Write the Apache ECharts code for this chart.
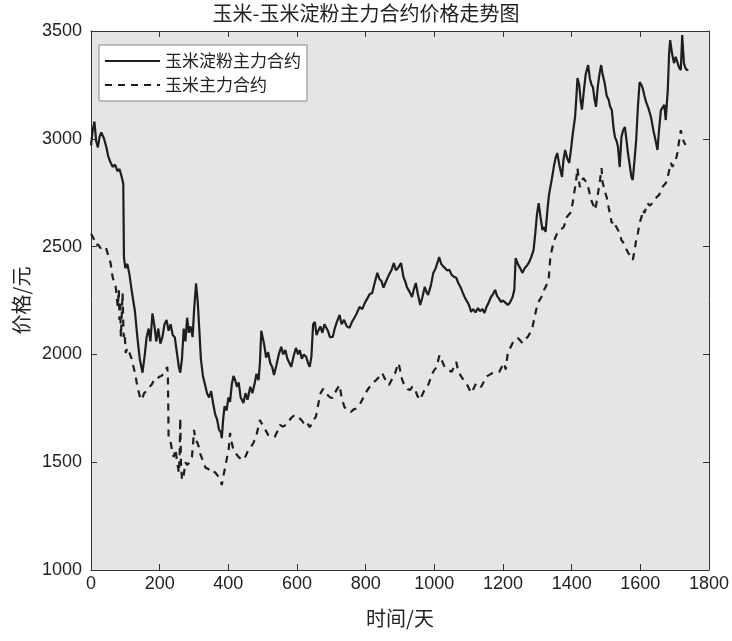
<!DOCTYPE html>
<html>
<head>
<meta charset="utf-8">
<script src="https://cdn.jsdelivr.net/npm/echarts@6/dist/echarts.min.js"></script>
<style>
html,body{margin:0;padding:0;background:#fff;}
#chart{width:732px;height:641px;}
</style>
</head>
<body>
<div id="chart"></div>
<script>
const titleText = '玉米-玉米淀粉主力合约价格走势图';
const seriesNames = ['玉米淀粉主力合约', '玉米主力合约'];
const xTicks = [0, 200, 400, 600, 800, 1000, 1200, 1400, 1600, 1800];
const yTicks = [1000, 1500, 2000, 2500, 3000, 3500];

const starchDays = [0,5,10,15,20,25,30,38,45,50,57,63,70,77,83,90,94,96,100,106,112,120,128,135,142,150,156,162,168,173,179,185,190,196,202,208,214,220,226,232,238,244,250,256,260,265,270,275,280,285,290,296,300,306,311,316,320,326,332,338,344,350,356,362,367,373,378,381,385,389,395,400,405,410,415,420,425,430,436,444,450,456,464,470,476,482,488,492,496,500,505,510,516,522,528,533,540,547,554,560,566,572,578,583,590,597,603,608,614,620,627,632,637,642,647,652,657,662,668,674,680,684,690,696,704,710,716,724,730,737,745,753,760,767,774,782,790,798,805,812,819,826,834,840,846,852,857,862,868,875,882,888,894,903,910,915,920,928,935,940,946,952,959,966,972,977,982,990,997,1004,1010,1014,1020,1025,1030,1037,1044,1050,1057,1064,1070,1077,1083,1090,1098,1103,1107,1113,1120,1127,1133,1140,1146,1152,1158,1165,1171,1177,1183,1188,1194,1200,1207,1214,1220,1228,1233,1237,1243,1250,1257,1263,1269,1275,1282,1289,1294,1299,1304,1309,1315,1320,1324,1330,1334,1338,1343,1348,1353,1358,1364,1368,1372,1376,1381,1387,1393,1398,1403,1410,1414,1417,1422,1426,1430,1436,1441,1448,1453,1458,1462,1467,1471,1476,1481,1486,1490,1496,1502,1508,1512,1517,1522,1526,1531,1535,1540,1545,1550,1555,1560,1564,1569,1574,1578,1583,1588,1593,1598,1603,1607,1612,1617,1624,1631,1638,1646,1650,1655,1660,1665,1670,1674,1680,1684,1687,1692,1698,1703,1708,1713,1718,1722,1727,1731,1735,1740];
const starchPrice = [2970,3040,3080,2990,2960,3010,3030,3000,2960,2920,2890,2870,2880,2850,2860,2820,2790,2450,2400,2420,2370,2280,2200,2080,1980,1915,1990,2080,2120,2060,2190,2130,2060,2120,2050,2080,2140,2160,2110,2140,2090,2080,2010,1940,1915,1980,2120,2060,2170,2100,2130,2080,2200,2330,2240,2100,1980,1900,1860,1820,1800,1830,1770,1720,1700,1650,1640,1612,1700,1760,1740,1800,1780,1860,1900,1880,1850,1870,1800,1775,1820,1790,1850,1820,1860,1910,1880,1960,2110,2080,2040,1985,2010,1960,1940,1905,1950,2000,2035,2000,2020,1980,1960,1942,1990,2030,2000,2020,1980,2000,1988,1960,1942,1990,2140,2150,2090,2110,2130,2100,2140,2127,2110,2080,2081,2120,2150,2183,2140,2160,2130,2123,2150,2169,2190,2220,2210,2240,2260,2280,2285,2330,2378,2350,2340,2310,2330,2322,2370,2390,2424,2390,2400,2424,2360,2340,2313,2290,2266,2300,2331,2280,2229,2270,2313,2290,2276,2320,2378,2400,2430,2452,2420,2410,2401,2390,2392,2370,2360,2355,2330,2310,2285,2260,2239,2220,2197,2210,2195,2215,2200,2210,2192,2220,2240,2266,2280,2299,2270,2260,2243,2250,2240,2229,2240,2266,2300,2447,2420,2400,2378,2400,2410,2424,2450,2484,2560,2650,2702,2640,2577,2590,2568,2680,2740,2776,2820,2870,2910,2934,2880,2850,2823,2900,2948,2910,2888,2950,3020,3101,3200,3282,3250,3180,3135,3230,3300,3342,3280,3250,3240,3180,3148,3240,3300,3342,3300,3260,3200,3180,3150,3133,3050,3008,2990,2962,2869,3008,3040,3055,2990,2934,2880,2823,2809,2900,2995,3150,3263,3250,3235,3200,3170,3140,3101,3040,2981,2948,3050,3133,3140,3157,3087,3226,3400,3458,3400,3351,3380,3379,3330,3319,3481,3351,3330,3319,3320];

const cornDays = [0,7,14,20,28,35,43,50,57,63,68,72,78,81,83,85,87,90,92,95,98,101,106,112,118,126,130,135,140,145,150,155,162,170,177,184,191,198,205,213,218,222,224,226,231,236,241,246,251,256,258,260,262,265,270,275,280,287,294,298,300,305,310,314,318,323,328,334,341,349,356,363,368,372,377,381,386,391,396,401,405,410,415,422,430,437,444,451,458,465,473,478,482,487,492,497,501,508,516,525,535,542,550,559,568,576,583,588,593,597,603,610,617,624,630,637,644,650,655,662,669,676,684,690,697,704,710,717,724,730,738,745,750,757,765,774,782,790,797,805,812,818,824,830,836,842,848,855,862,868,875,880,886,891,896,900,905,910,916,922,929,936,943,950,958,964,970,978,985,992,999,1007,1011,1015,1020,1025,1030,1037,1044,1050,1057,1064,1070,1079,1086,1093,1100,1107,1114,1122,1129,1136,1143,1151,1160,1170,1180,1189,1196,1203,1208,1214,1221,1228,1235,1243,1250,1257,1264,1272,1279,1286,1293,1301,1308,1315,1320,1324,1329,1333,1338,1343,1347,1352,1358,1362,1367,1372,1377,1381,1386,1391,1396,1403,1410,1414,1417,1420,1424,1429,1434,1440,1445,1452,1459,1464,1468,1472,1477,1482,1487,1490,1496,1502,1508,1513,1517,1522,1527,1535,1540,1545,1550,1555,1560,1565,1570,1575,1578,1583,1588,1593,1598,1604,1608,1612,1617,1621,1627,1634,1641,1648,1655,1660,1666,1672,1676,1680,1685,1689,1694,1698,1703,1708,1713,1718,1722,1727,1732];
const cornPrice = [2560,2540,2507,2510,2493,2500,2498,2460,2424,2359,2330,2313,2220,2300,2160,2250,2081,2200,2285,2081,2100,2007,2030,2007,1980,1928,1900,1849,1820,1789,1800,1821,1830,1849,1860,1882,1880,1896,1900,1914,1920,1942,1900,1617,1600,1557,1524,1560,1500,1450,1520,1705,1496,1417,1440,1500,1487,1500,1524,1600,1650,1600,1590,1571,1540,1519,1500,1473,1470,1455,1460,1450,1440,1431,1420,1394,1440,1478,1520,1557,1636,1590,1557,1540,1524,1515,1510,1530,1557,1570,1589,1610,1626,1660,1696,1680,1673,1650,1626,1620,1617,1640,1673,1665,1673,1690,1705,1700,1719,1728,1710,1700,1687,1670,1680,1663,1680,1700,1710,1770,1821,1840,1821,1810,1800,1798,1820,1840,1858,1800,1756,1745,1740,1733,1745,1750,1765,1790,1810,1835,1850,1860,1872,1880,1890,1900,1914,1890,1870,1858,1880,1900,1914,1940,1960,1930,1890,1867,1850,1840,1835,1850,1844,1810,1789,1810,1830,1844,1870,1905,1925,1942,1970,1997,1980,1960,1942,1930,1925,1919,1940,1965,1920,1896,1880,1867,1845,1821,1840,1867,1860,1849,1870,1896,1905,1914,1915,1919,1940,1960,1930,2007,2030,2053,2065,2076,2065,2053,2070,2081,2100,2127,2180,2238,2255,2276,2300,2313,2330,2345,2452,2490,2517,2540,2563,2570,2577,2585,2591,2610,2637,2645,2656,2702,2776,2820,2864,2820,2776,2800,2818,2805,2795,2750,2707,2690,2670,2700,2749,2800,2864,2800,2760,2730,2680,2640,2609,2620,2600,2577,2560,2530,2520,2500,2485,2470,2460,2450,2438,2480,2530,2563,2610,2640,2670,2656,2680,2702,2690,2700,2716,2730,2740,2762,2780,2790,2800,2823,2860,2888,2870,2869,2900,2934,2990,3040,3010,2985,2971];

const starchData = starchDays.map((d, i) => [d, starchPrice[i]]);
const cornData = cornDays.map((d, i) => [d, cornPrice[i]]);

const latin = 'Liberation Sans';
const cjk = '"Noto Sans CJK SC"';
const axisLineStyle = { color: '#333', width: 1 };
const plain = v => String(v);

const chart = echarts.init(document.getElementById('chart'), null, { renderer: 'canvas' });
chart.setOption({
  animation: false,
  backgroundColor: '#ffffff',
  title: {
    text: titleText,
    left: 'center',
    top: -2,
    textStyle: { fontFamily: cjk, fontSize: 20, fontWeight: 'normal', color: '#222' }
  },
  legend: {
    orient: 'vertical',
    left: 99,
    top: 45,
    padding: [6, 6, 6, 5],
    itemGap: 4,
    itemWidth: 55,
    itemHeight: 14,
    backgroundColor: '#ffffff',
    borderColor: '#888',
    borderWidth: 1,
    borderRadius: 0,
    itemStyle: { opacity: 0 },
    textStyle: { fontFamily: cjk, fontSize: 17, color: '#222', lineHeight: 20 },
    data: seriesNames
  },
  grid: {
    left: 91, right: 17, top: 31, bottom: 71,
    show: true,
    backgroundColor: '#e5e5e5',
    borderColor: '#333',
    borderWidth: 0
  },
  xAxis: [{
    type: 'value',
    position: 'bottom',
    min: xTicks[0], max: xTicks[xTicks.length - 1], interval: 200,
    axisLine: { show: true, lineStyle: axisLineStyle },
    axisTick: { show: true, inside: true, length: 6, lineStyle: axisLineStyle },
    axisLabel: { fontFamily: latin, fontSize: 18, color: '#222', margin: 5, formatter: plain },
    splitLine: { show: false },
    name: '时间/天',
    nameLocation: 'middle',
    nameGap: 38,
    nameTextStyle: { fontFamily: cjk, fontSize: 20, color: '#222' }
  }, {
    type: 'value',
    position: 'top',
    min: xTicks[0], max: xTicks[xTicks.length - 1], interval: 200,
    axisLine: { show: true, onZero: false, lineStyle: axisLineStyle },
    axisTick: { show: true, inside: true, length: 6, lineStyle: axisLineStyle },
    axisLabel: { show: false },
    splitLine: { show: false }
  }],
  yAxis: [{
    type: 'value',
    position: 'left',
    min: yTicks[0], max: yTicks[yTicks.length - 1], interval: 500,
    axisLine: { show: true, onZero: false, lineStyle: axisLineStyle },
    axisTick: { show: true, inside: true, length: 6, lineStyle: axisLineStyle },
    axisLabel: { fontFamily: latin, fontSize: 18, color: '#222', margin: 9, formatter: plain },
    splitLine: { show: false },
    name: '价格/元',
    nameLocation: 'middle',
    nameGap: 56,
    nameRotate: 90,
    nameTextStyle: { fontFamily: cjk, fontSize: 20, color: '#222' }
  }, {
    type: 'value',
    position: 'right',
    min: yTicks[0], max: yTicks[yTicks.length - 1], interval: 500,
    axisLine: { show: true, onZero: false, lineStyle: axisLineStyle },
    axisTick: { show: true, inside: true, length: 6, lineStyle: axisLineStyle },
    axisLabel: { show: false },
    splitLine: { show: false }
  }],
  series: [{
    name: seriesNames[0],
    type: 'line',
    xAxisIndex: 0, yAxisIndex: 0,
    data: starchData,
    showSymbol: false,
    symbol: 'none',
    lineStyle: { color: '#1e1e1e', width: 2.2, type: 'solid' },
    itemStyle: { color: '#1e1e1e' }
  }, {
    name: seriesNames[1],
    type: 'line',
    xAxisIndex: 0, yAxisIndex: 0,
    data: cornData,
    showSymbol: false,
    symbol: 'none',
    lineStyle: { color: '#1e1e1e', width: 2.2, type: [7, 6] },
    itemStyle: { color: '#1e1e1e' }
  }]
});
</script>
</body>
</html>
